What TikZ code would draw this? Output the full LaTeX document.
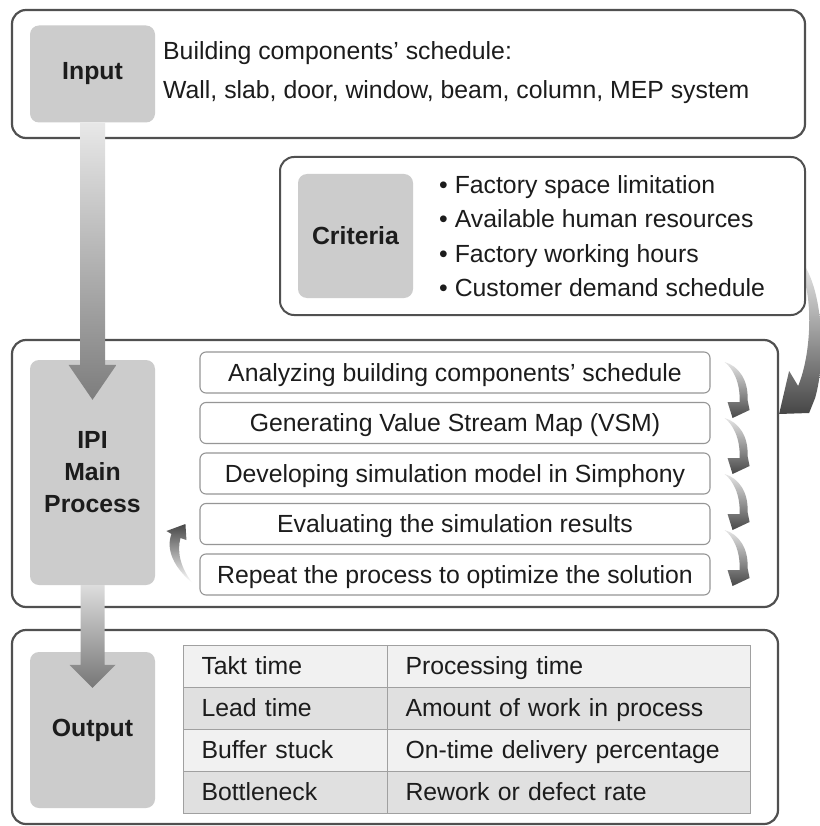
\documentclass[tikz,border=0pt]{standalone}
\usepackage{fontspec}
\setmainfont{Liberation Sans}
\usetikzlibrary{calc}
\definecolor{boxgray}{RGB}{204,204,204}
\definecolor{framegray}{RGB}{80,80,80}
\definecolor{stepgray}{RGB}{150,150,150}
\definecolor{rowlight}{RGB}{241,241,241}
\definecolor{rowdark}{RGB}{224,224,224}
\definecolor{cellline}{RGB}{160,160,160}
\definecolor{txt}{RGB}{28,28,28}
\definecolor{arrowlight}{RGB}{232,232,232}
\definecolor{arrowdark}{RGB}{125,125,125}
\definecolor{bigdark}{RGB}{70,70,70}
\begin{document}
\begin{tikzpicture}[x=1pt,y=-1pt,
  every node/.style={font=\fontsize{24.8}{31}\selectfont, text=txt},
  outerbox/.style={draw=framegray, line width=2.2pt, rounded corners=14pt, fill=white, inner sep=0pt},
  labelbox/.style={fill=boxgray, rounded corners=9pt, inner sep=0pt, align=center,
    font=\fontsize{24.8}{32}\selectfont\bfseries},
  stepbox/.style={draw=stepgray, line width=1.1pt, rounded corners=6pt, fill=white,
    minimum width=510pt, minimum height=41pt, inner sep=0pt, text height=18pt, text depth=1pt},
  txtnode/.style={inner sep=0pt},
  cell/.style={draw=cellline, line width=1pt, minimum height=42pt, inner ysep=0pt, inner xsep=18.5pt,
    align=left, text height=18pt, text depth=1pt},
  lcell/.style={cell, text width=167pt},
  rcell/.style={cell, text width=326pt},
]
\useasboundingbox (0,0) rectangle (819,826);

% ---------- Input ----------
\node[outerbox, minimum width=793pt, minimum height=128pt] (inframe) at (408.5,74) {};
\node[labelbox, minimum width=125pt, minimum height=97pt] (inputg) at (92.5,74) {Input};
\node[txtnode, anchor=base west] (in1) at (163,60) {Building components’ schedule:};
\node[txtnode, anchor=base west] (in2) at (163,99) {Wall, slab, door, window, beam, column, MEP system};

% ---------- IPI main process ----------
\node[outerbox, minimum width=766pt, minimum height=267pt] (ipiframe) at (395,473.5) {};
\node[labelbox, minimum width=125pt, minimum height=225pt] (ipig) at (92.5,472.5) {IPI\\Main\\Process};
\node[stepbox] (s1) at (455,372.5) {Analyzing building components’ schedule};
\node[stepbox] (s2) at (455,423) {Generating Value Stream Map (VSM)};
\node[stepbox] (s3) at (455,473.5) {Developing simulation model in Simphony};
\node[stepbox] (s4) at (455,524) {Evaluating the simulation results};
\node[stepbox] (s5) at (455,574.5) {Repeat the process to optimize the solution};

% ---------- big curved arrow from criteria ----------
\coordinate (bigtip) at ($(ipiframe.east)+(0,-59.5)$);
\begin{scope}[shift={(bigtip)}]
\shade[top color=arrowlight, bottom color=bigdark]
  (0,0) -- (10,-43) -- (19,-28) .. controls (32,-59) and (34,-114) .. (23,-140)
  -- (23,-152) .. controls (44,-124) and (47,-54) .. (36,-16) -- (30,-1) -- cycle;
\end{scope}

% ---------- Criteria ----------
\node[outerbox, line width=2pt, minimum width=525pt, minimum height=158pt] (critframe) at (542.5,236) {};
\node[labelbox, minimum width=115pt, minimum height=124pt] (critg) at (355.5,236) {Criteria};
\node[txtnode, anchor=base west] (c1) at (439,194) {• Factory space limitation};
\node[txtnode, anchor=base west] (c2) at (439,228) {• Available human resources};
\node[txtnode, anchor=base west] (c3) at (439,262) {• Factory working hours};
\node[txtnode, anchor=base west] (c4) at (439,296) {• Customer demand schedule};

% ---------- Output ----------
\node[outerbox, minimum width=766pt, minimum height=194pt] (outframe) at (395,727) {};
\node[labelbox, minimum width=125pt, minimum height=156pt] (outg) at (92.5,730) {Output};
\node[lcell, fill=rowlight] (t11) at (285,666) {Takt time};
\node[rcell, fill=rowlight] (t12) at (568.5,666) {Processing time};
\node[lcell, fill=rowdark] (t21) at (285,708) {Lead time};
\node[rcell, fill=rowdark] (t22) at (568.5,708) {Amount of work in process};
\node[lcell, fill=rowlight] (t31) at (285,750) {Buffer stuck};
\node[rcell, fill=rowlight] (t32) at (568.5,750) {On-time delivery percentage};
\node[lcell, fill=rowdark] (t41) at (285,792) {Bottleneck};
\node[rcell, fill=rowdark] (t42) at (568.5,792) {Rework or defect rate};

% ---------- vertical block arrows ----------
\coordinate (t1) at ($(ipig.north)+(0,40)$);
\shade[top color=arrowlight, bottom color=arrowdark]
  ($(inputg.south)+(-12.5,0)$) -- ($(t1)+(-12.5,-35)$) -- ($(t1)+(-24,-35)$) -- (t1)
  -- ($(t1)+(24,-35)$) -- ($(t1)+(12.5,-35)$) -- ($(inputg.south)+(12.5,0)$) -- cycle;
\coordinate (t2) at ($(outg.north)+(0,36)$);
\shade[top color=arrowlight!95!black, bottom color=arrowdark!95!black]
  ($(ipig.south)+(-12,0)$) -- ($(t2)+(-12,-23)$) -- ($(t2)+(-23,-23)$) -- (t2)
  -- ($(t2)+(23,-23)$) -- ($(t2)+(12,-23)$) -- ($(ipig.south)+(12,0)$) -- cycle;

% ---------- small curved arrows between steps ----------
\foreach \k [evaluate=\k as \dy using -10.5+56*\k] in {0,1,2,3} {
  \begin{scope}[shift={($(s1.east)+(14,\dy)$)}]
  \shade[top color=white!90!black, bottom color=black!72]
    (0,0) .. controls (14,4) and (24,18) .. (23,38) -- (25,48) -- (8,56) -- (3,40)
    -- (15,40) .. controls (16,20) and (8,6) .. (0,0) -- cycle;
  \end{scope}
}

% ---------- small feedback arrow on the left ----------
\coordinate (lt) at ($(s5.west)+(-7,8.5)$);
\begin{scope}[shift={(lt)}]
\shade[top color=black!72, bottom color=white]
  (0,0) .. controls (-18,-15) and (-27,-33) .. (-21,-49) -- (-26,-52) -- (-7,-59)
  -- (-6,-43) -- (-12,-45) .. controls (-16,-30) and (-11,-14) .. (0,0) -- cycle;
\end{scope}
\end{tikzpicture}
\end{document}
